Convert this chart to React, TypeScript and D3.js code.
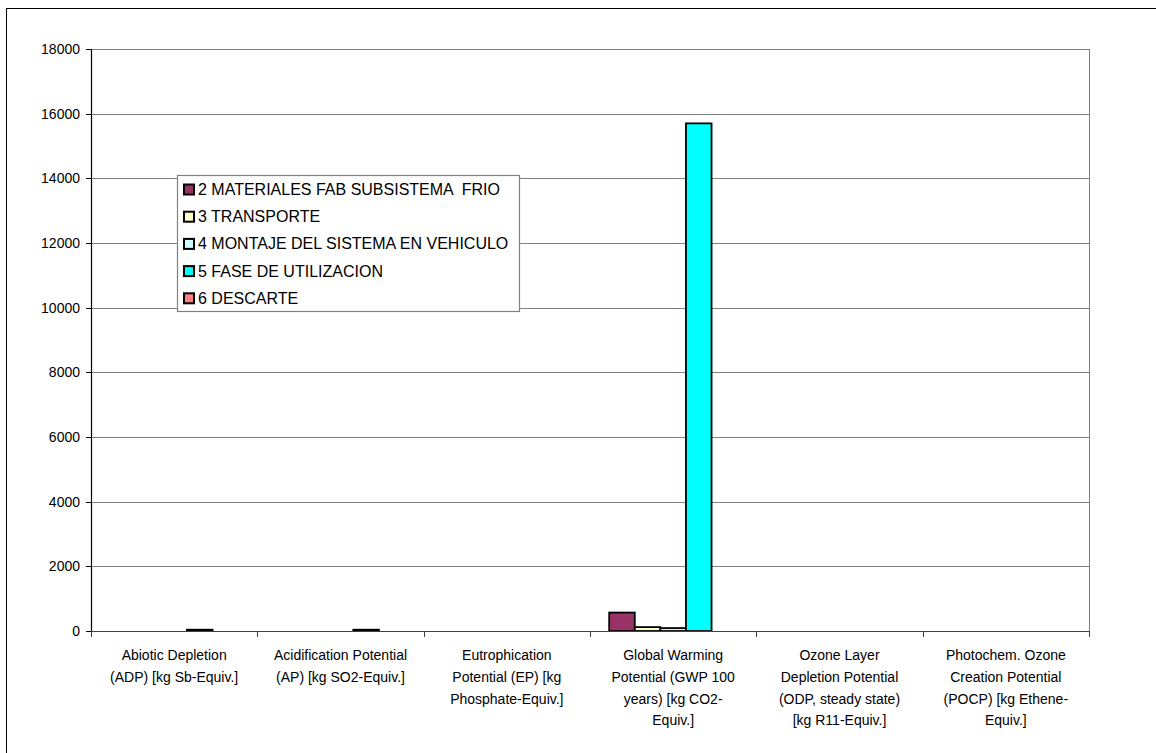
import React from "react";
import * as d3 from "d3";

const categories: string[][] = [
  ["Abiotic Depletion", "(ADP) [kg Sb-Equiv.]"],
  ["Acidification Potential", "(AP) [kg SO2-Equiv.]"],
  ["Eutrophication", "Potential (EP) [kg", "Phosphate-Equiv.]"],
  ["Global Warming", "Potential (GWP 100", "years) [kg CO2-", "Equiv.]"],
  ["Ozone Layer", "Depletion Potential", "(ODP, steady state)", "[kg R11-Equiv.]"],
  ["Photochem. Ozone", "Creation Potential", "(POCP) [kg Ethene-", "Equiv.]"],
];

const seriesNames = [
  "2 MATERIALES FAB SUBSISTEMA  FRIO",
  "3 TRANSPORTE",
  "4 MONTAJE DEL SISTEMA EN VEHICULO",
  "5 FASE DE UTILIZACION",
  "6 DESCARTE",
];

const seriesColors = ["#993366", "#FFFFCC", "#CCFFFF", "#00FFFF", "#FF8080"];

// one array per series, one value per impact category
const materiales = [0, 0, 0, 570, 0, 0];
const transporte = [0, 0, 0, 120, 0, 0];
const montaje = [0, 0, 0, 90, 0, 0];
const utilizacion = [40, 40, 0, 15700, 0, 0];
const descarte = [0, 0, 0, 0, 0, 0];

const seriesValues = [materiales, transporte, montaje, utilizacion, descarte];

const yTicks = [0, 2000, 4000, 6000, 8000, 10000, 12000, 14000, 16000, 18000];

export default function App() {
  const W = 1156;
  const H = 753;
  const left = 91;
  const right = 1089;
  const top = 49;
  const bottom = 631;

  const x = d3
    .scaleBand<number>()
    .domain(d3.range(categories.length))
    .range([left, right])
    .paddingInner(0)
    .paddingOuter(0);
  const cw = x.bandwidth();
  const barW = cw / 6.5;
  const y = d3.scaleLinear().domain([0, 18000]).range([bottom, top]);

  const font = "'Liberation Sans', Arial, sans-serif";

  return (
    <svg
      width={W}
      height={H}
      style={{ position: "absolute", left: 0, top: 0, background: "#fff" }}
      fontFamily={font}
    >
      <rect x={0} y={0} width={W} height={H} fill="#fff" />
      {/* chart frame */}
      <rect x={6.5} y={8.5} width={1160} height={760} fill="none" stroke="#000" strokeWidth={1} />

      {/* gridlines */}
      {yTicks.slice(1).map((t) => (
        <line key={t} x1={left} x2={right} y1={Math.round(y(t)) + 0.5} y2={Math.round(y(t)) + 0.5} stroke="#808080" strokeWidth={1} />
      ))}
      <line x1={right + 0.5} x2={right + 0.5} y1={top} y2={bottom} stroke="#808080" strokeWidth={1} />

      {/* bars */}
      {categories.map((_, ci) =>
        seriesValues.map((vals, si) => {
          const v = vals[ci];
          if (v <= 0) return null;
          const x0 = (x(ci) as number) + barW * 0.75 + si * barW;
          const y0 = y(v);
          return (
            <rect
              key={`${ci}-${si}`}
              x={x0}
              y={y0}
              width={barW}
              height={bottom - y0}
              fill={seriesColors[si]}
              stroke="#000"
              strokeWidth={1.8}
            />
          );
        })
      )}

      {/* y axis */}
      <line x1={left + 0.5} x2={left + 0.5} y1={top} y2={bottom} stroke="#000" strokeWidth={1.2} />
      {yTicks.map((t) => (
        <g key={t}>
          <line x1={left - 5} x2={left} y1={Math.round(y(t)) + 0.5} y2={Math.round(y(t)) + 0.5} stroke="#000" />
          <text x={80} y={y(t) + 5} textAnchor="end" fontSize={14} fill="#000">
            {t}
          </text>
        </g>
      ))}

      {/* x axis */}
      <line x1={left} x2={right + 1} y1={bottom + 0.5} y2={bottom + 0.5} stroke="#404040" strokeWidth={1.2} />
      {d3.range(categories.length + 1).map((i) => {
        const xx = Math.round(left + i * cw) + 0.5;
        return <line key={i} x1={xx} x2={xx} y1={bottom} y2={bottom + 6} stroke="#404040" />;
      })}
      {categories.map((lines, ci) => (
        <text key={ci} textAnchor="middle" fontSize={14} fill="#000">
          {lines.map((ln, li) => (
            <tspan key={li} x={(x(ci) as number) + cw / 2} y={660 + li * 21.8}>
              {ln}
            </tspan>
          ))}
        </text>
      ))}

      {/* legend */}
      <rect x={177.5} y={175.5} width={342} height={136} fill="#fff" stroke="#808080" strokeWidth={1.2} />
      {seriesNames.map((name, i) => {
        const cy = 189.5 + i * 27.2;
        return (
          <g key={name}>
            <rect x={184} y={cy - 5} width={10} height={10} fill={seriesColors[i]} stroke="#000" strokeWidth={2} />
            <text x={198} y={cy + 5.5} fontSize={16} fill="#000" style={{ whiteSpace: "pre" }}>
              {name}
            </text>
          </g>
        );
      })}
    </svg>
  );
}
